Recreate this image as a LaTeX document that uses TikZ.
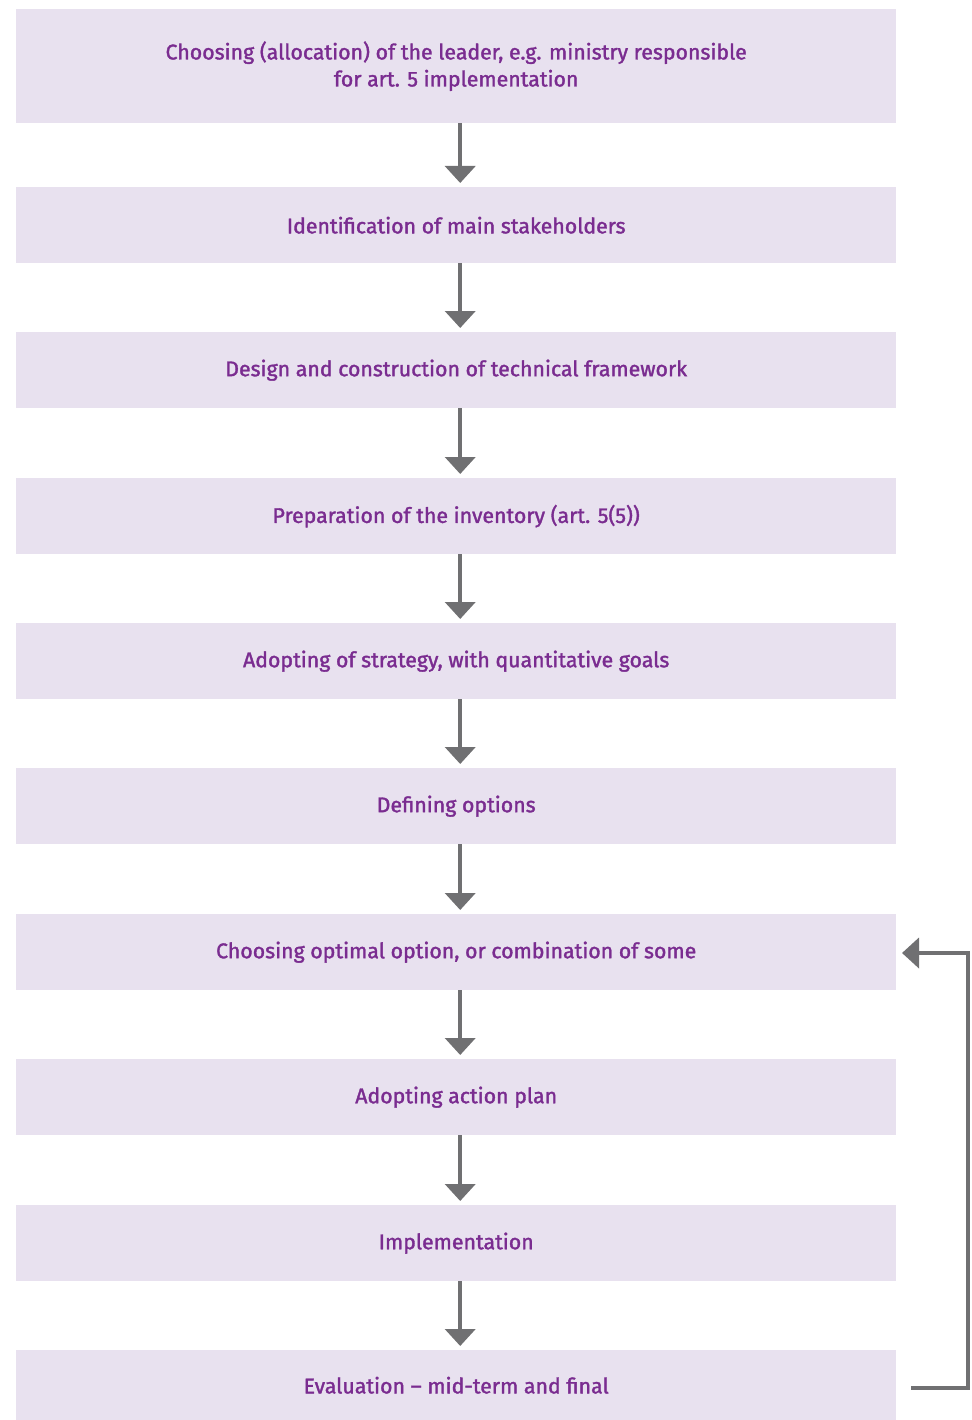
\documentclass[tikz,border=0pt]{standalone}
\usepackage{fontspec}
\setmainfont{Fira Sans}[FakeBold=1.6]
\usetikzlibrary{arrows.meta}
\definecolor{boxfill}{HTML}{E8E1EF}
\definecolor{boxtext}{HTML}{7A2C90}
\definecolor{arrowgrey}{HTML}{707072}
\tikzset{
  stepbox/.style={fill=boxfill, draw=none, anchor=north west, minimum width=880pt,
    inner sep=0pt, text=boxtext, align=center, font=\fontsize{21.3}{27}\selectfont},
  flow/.style={draw=arrowgrey, line width=4pt, -{Triangle[width=30pt,length=17pt]}},
}
\begin{document}
\begin{tikzpicture}[x=1pt, y=-1pt]
\useasboundingbox (0,0) rectangle (971,1420);
\node[stepbox, minimum height=114pt] (b1) at (16,9) {Choosing (allocation) of the leader, e.g. ministry responsible\\for art. 5 implementation};
\node[stepbox, minimum height=76pt] (b2) at (16,187) {Identification of main stakeholders};
\node[stepbox, minimum height=76pt] (b3) at (16,332) {Design and construction of technical framework};
\node[stepbox, minimum height=76pt] (b4) at (16,478) {Preparation of the inventory (art. 5(5))};
\node[stepbox, minimum height=76pt] (b5) at (16,623) {Adopting of strategy, with quantitative goals};
\node[stepbox, minimum height=76pt] (b6) at (16,768) {Defining options};
\node[stepbox, minimum height=76pt] (b7) at (16,914) {Choosing optimal option, or combination of some};
\node[stepbox, minimum height=76pt] (b8) at (16,1059) {Adopting action plan};
\node[stepbox, minimum height=76pt] (b9) at (16,1205) {Implementation};
\node[stepbox, minimum height=70pt] (b10) at (16,1350) {Evaluation -- mid-term and final};
\foreach \a/\b in {b1/b2,b2/b3,b3/b4,b4/b5,b5/b6,b6/b7,b7/b8,b8/b9,b9/b10}{
  \draw[flow] ([xshift=4pt]\a.south) -- ([xshift=4pt,yshift=4pt]\b.north);
}
\coordinate (fbout) at (911,1388);
\coordinate (fbin) at (902,953);
\draw[flow, line cap=butt] (fbout) -- (968,1388) -- (968,953) -- (fbin);
\end{tikzpicture}
\end{document}
